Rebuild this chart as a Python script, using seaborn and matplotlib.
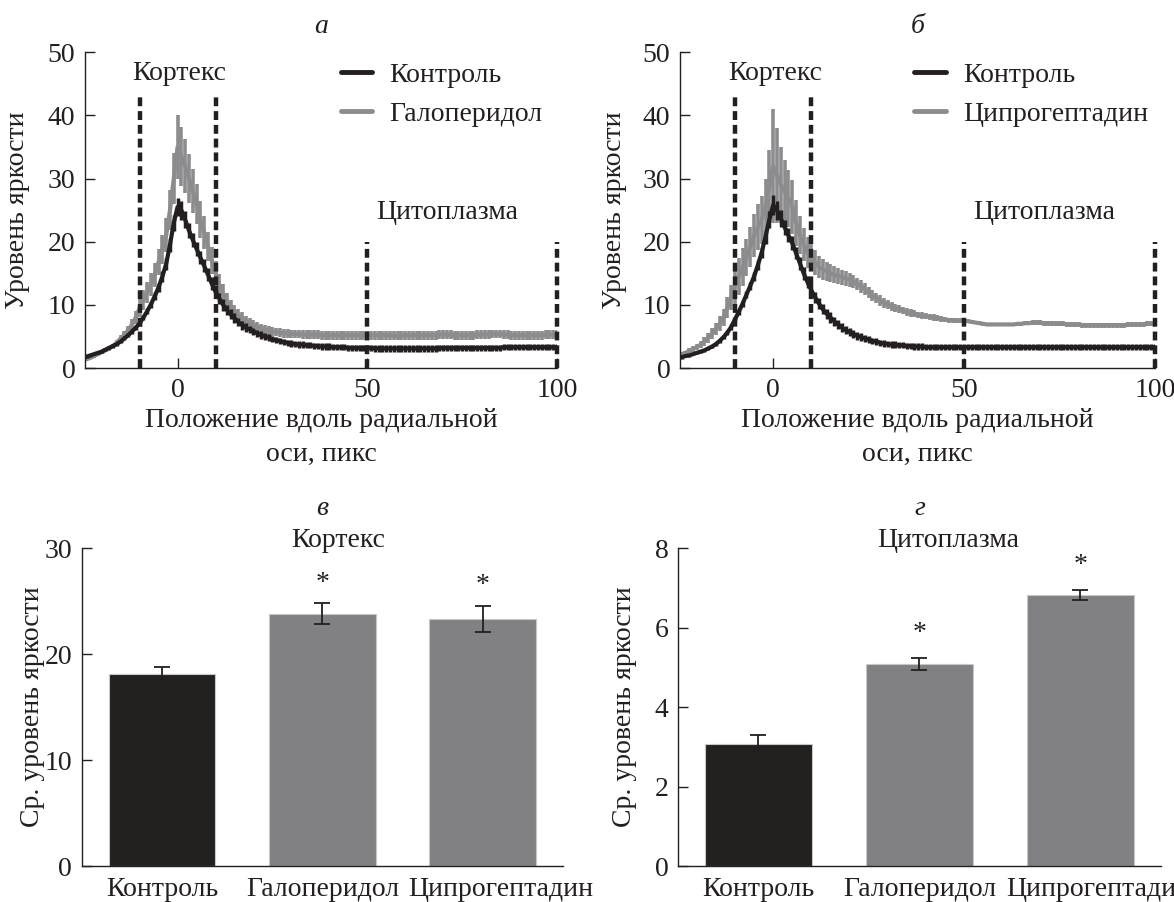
import numpy as np
import pandas as pd
import matplotlib
matplotlib.use("Agg")
import matplotlib.pyplot as plt
import matplotlib.transforms as mtransforms
from matplotlib.lines import Line2D
import seaborn as sns

# ---------------- data ----------------
positions = list(range(-25, 101))  # radial position, px

ctrl_a_mean = [1.6, 1.8, 2.0, 2.2, 2.4, 2.6, 2.9, 3.2, 3.5, 3.8,
               4.2, 4.7, 5.2, 5.8, 6.4, 7.1, 8.0, 9.0, 10.1, 11.4,
               12.8, 14.5, 16.5, 19.5, 23.0, 25.5, 25.0, 23.5, 21.8, 20.3,
               18.9, 17.5, 16.2, 14.8, 13.4, 12.1, 11.0, 10.0, 9.2, 8.5,
               7.9, 7.3, 6.8, 6.4, 6.1, 5.8, 5.5, 5.2, 5.0, 4.8,
               4.6, 4.4, 4.3, 4.1, 4.0, 3.9, 3.8, 3.7, 3.7, 3.6,
               3.6, 3.5, 3.5, 3.4, 3.4, 3.4, 3.3, 3.3, 3.3, 3.3,
               3.2, 3.2, 3.2, 3.2, 3.2, 3.2, 3.2, 3.1, 3.1, 3.1,
               3.1, 3.1, 3.1, 3.1, 3.1, 3.1, 3.1, 3.1, 3.1, 3.1,
               3.1, 3.1, 3.1, 3.1, 3.2, 3.2, 3.2, 3.2, 3.2, 3.2,
               3.2, 3.2, 3.2, 3.2, 3.2, 3.2, 3.2, 3.2, 3.2, 3.2,
               3.2, 3.3, 3.3, 3.3, 3.3, 3.3, 3.3, 3.3, 3.3, 3.3,
               3.3, 3.3, 3.3, 3.3, 3.3, 3.3]
ctrl_a_err = [0.2, 0.2, 0.2, 0.2, 0.2, 0.25, 0.25, 0.25, 0.3, 0.3,
              0.3, 0.3, 0.35, 0.35, 0.4, 0.4, 0.45, 0.5, 0.55, 0.6,
              0.7, 0.8, 0.9, 1.1, 1.3, 1.5, 1.5, 1.3, 1.2, 1.1,
              1.1, 1.0, 1.0, 1.0, 1.0, 1.0, 0.9, 0.9, 0.8, 0.8,
              0.8, 0.7, 0.7, 0.7, 0.6, 0.6, 0.6, 0.6, 0.6, 0.55,
              0.5, 0.5, 0.5, 0.5, 0.5, 0.5, 0.5, 0.5, 0.5, 0.5,
              0.5, 0.5, 0.5, 0.5, 0.5, 0.5, 0.5, 0.5, 0.5, 0.5,
              0.5, 0.5, 0.5, 0.5, 0.5, 0.5, 0.5, 0.5, 0.5, 0.5,
              0.5, 0.5, 0.5, 0.5, 0.5, 0.5, 0.5, 0.5, 0.5, 0.5,
              0.5, 0.5, 0.5, 0.5, 0.5, 0.5, 0.5, 0.5, 0.5, 0.5,
              0.5, 0.5, 0.5, 0.5, 0.5, 0.5, 0.5, 0.5, 0.5, 0.5,
              0.5, 0.5, 0.5, 0.5, 0.5, 0.5, 0.5, 0.5, 0.5, 0.5,
              0.5, 0.5, 0.5, 0.5, 0.5, 0.5]

halo_mean = [1.2, 1.4, 1.6, 1.9, 2.2, 2.5, 2.8, 3.1, 3.5, 4.0,
             4.7, 5.3, 6.0, 6.9, 8.0, 9.5, 10.8, 12.0, 13.2, 14.8,
             16.8, 18.8, 21.0, 25.0, 30.0, 35.0, 33.5, 32.0, 30.0, 28.0,
             26.0, 23.5, 21.5, 19.3, 17.0, 15.0, 13.2, 11.8, 10.6, 9.7,
             9.0, 8.4, 7.9, 7.5, 7.1, 6.8, 6.5, 6.3, 6.1, 5.9,
             5.8, 5.7, 5.6, 5.5, 5.5, 5.4, 5.4, 5.4, 5.3, 5.3,
             5.3, 5.3, 5.3, 5.2, 5.2, 5.2, 5.2, 5.2, 5.2, 5.2,
             5.2, 5.2, 5.2, 5.2, 5.2, 5.2, 5.2, 5.2, 5.2, 5.2,
             5.2, 5.2, 5.1, 5.1, 5.1, 5.2, 5.2, 5.2, 5.2, 5.2,
             5.2, 5.2, 5.2, 5.2, 5.3, 5.3, 5.3, 5.3, 5.2, 5.2,
             5.2, 5.2, 5.2, 5.2, 5.3, 5.3, 5.3, 5.3, 5.4, 5.4,
             5.4, 5.3, 5.3, 5.2, 5.2, 5.2, 5.2, 5.2, 5.2, 5.2,
             5.2, 5.2, 5.3, 5.3, 5.3, 5.3]
halo_err = [0.2, 0.2, 0.25, 0.25, 0.3, 0.3, 0.3, 0.35, 0.35, 0.4,
            0.5, 0.6, 0.7, 0.8, 1.0, 1.4, 1.6, 1.7, 1.8, 1.9,
            2.0, 2.3, 2.7, 3.2, 4.0, 5.0, 4.7, 4.3, 3.9, 3.5,
            3.2, 2.9, 2.6, 2.3, 2.1, 1.9, 1.7, 1.5, 1.3, 1.1,
            1.0, 0.9, 0.9, 0.8, 0.8, 0.8, 0.75, 0.75, 0.7, 0.7,
            0.7, 0.7, 0.7, 0.7, 0.7, 0.7, 0.7, 0.7, 0.7, 0.7,
            0.7, 0.7, 0.7, 0.7, 0.7, 0.7, 0.7, 0.7, 0.7, 0.7,
            0.7, 0.7, 0.7, 0.7, 0.7, 0.7, 0.7, 0.7, 0.7, 0.7,
            0.7, 0.7, 0.7, 0.7, 0.7, 0.7, 0.7, 0.7, 0.7, 0.7,
            0.7, 0.7, 0.7, 0.7, 0.7, 0.7, 0.7, 0.7, 0.7, 0.7,
            0.7, 0.7, 0.7, 0.7, 0.7, 0.7, 0.7, 0.7, 0.7, 0.7,
            0.7, 0.7, 0.7, 0.7, 0.7, 0.7, 0.7, 0.7, 0.7, 0.7,
            0.7, 0.7, 0.7, 0.7, 0.7, 0.7]

ctrl_b_mean = [1.6, 1.7, 1.9, 2.0, 2.2, 2.4, 2.6, 2.8, 3.1, 3.4,
               3.8, 4.3, 4.9, 5.6, 6.5, 7.7, 8.9, 10.2, 11.6, 13.0,
               14.5, 16.3, 18.3, 20.8, 23.5, 25.8, 25.0, 23.7, 22.3, 21.0,
               19.8, 18.2, 16.6, 15.0, 13.6, 12.3, 11.2, 10.2, 9.3, 8.6,
               8.0, 7.4, 6.9, 6.4, 6.0, 5.7, 5.4, 5.1, 4.9, 4.7,
               4.5, 4.3, 4.2, 4.0, 3.9, 3.8, 3.7, 3.7, 3.6, 3.6,
               3.5, 3.5, 3.4, 3.4, 3.4, 3.3, 3.3, 3.3, 3.3, 3.3,
               3.3, 3.3, 3.3, 3.3, 3.3, 3.3, 3.3, 3.3, 3.3, 3.3,
               3.3, 3.3, 3.3, 3.3, 3.3, 3.3, 3.3, 3.3, 3.3, 3.3,
               3.3, 3.3, 3.3, 3.3, 3.3, 3.3, 3.3, 3.3, 3.3, 3.3,
               3.3, 3.3, 3.3, 3.3, 3.3, 3.3, 3.3, 3.3, 3.3, 3.3,
               3.3, 3.3, 3.3, 3.3, 3.3, 3.3, 3.3, 3.3, 3.3, 3.3,
               3.3, 3.3, 3.3, 3.3, 3.3, 3.3]
ctrl_b_err = [0.2, 0.2, 0.2, 0.2, 0.2, 0.25, 0.25, 0.25, 0.3, 0.3,
              0.3, 0.3, 0.35, 0.35, 0.4, 0.4, 0.45, 0.5, 0.55, 0.6,
              0.7, 0.8, 0.9, 1.1, 1.3, 1.6, 1.5, 1.3, 1.2, 1.1,
              1.1, 1.0, 1.0, 1.0, 1.0, 1.0, 0.9, 0.9, 0.8, 0.8,
              0.8, 0.7, 0.7, 0.7, 0.6, 0.6, 0.6, 0.6, 0.6, 0.55,
              0.5, 0.5, 0.5, 0.5, 0.5, 0.5, 0.5, 0.5, 0.5, 0.5,
              0.5, 0.5, 0.5, 0.5, 0.5, 0.5, 0.5, 0.5, 0.5, 0.5,
              0.5, 0.5, 0.5, 0.5, 0.5, 0.5, 0.5, 0.5, 0.5, 0.5,
              0.5, 0.5, 0.5, 0.5, 0.5, 0.5, 0.5, 0.5, 0.5, 0.5,
              0.5, 0.5, 0.5, 0.5, 0.5, 0.5, 0.5, 0.5, 0.5, 0.5,
              0.5, 0.5, 0.5, 0.5, 0.5, 0.5, 0.5, 0.5, 0.5, 0.5,
              0.5, 0.5, 0.5, 0.5, 0.5, 0.5, 0.5, 0.5, 0.5, 0.5,
              0.5, 0.5, 0.5, 0.5, 0.5, 0.5]

cypro_mean = [2.0, 2.2, 2.4, 2.7, 3.0, 3.3, 3.7, 4.2, 4.8, 5.5,
              6.2, 7.0, 8.0, 9.6, 11.2, 13.0, 14.5, 16.0, 17.5, 19.2,
              21.0, 22.3, 23.5, 25.5, 28.5, 32.0, 30.5, 29.0, 28.0, 26.8,
              25.5, 23.0, 21.0, 19.5, 18.3, 17.5, 16.7, 16.0, 15.6, 15.3,
              15.0, 14.8, 14.6, 14.4, 14.2, 14.0, 13.7, 13.3, 12.9, 12.5,
              12.0, 11.5, 11.1, 10.7, 10.3, 10.0, 9.7, 9.5, 9.3, 9.1,
              8.9, 8.7, 8.6, 8.4, 8.3, 8.2, 8.1, 8.0, 7.9, 7.8,
              7.7, 7.6, 7.6, 7.5, 7.5, 7.5, 7.4, 7.3, 7.2, 7.1,
              7.0, 6.9, 6.9, 6.9, 6.9, 6.9, 6.9, 6.9, 6.9, 7.0,
              7.0, 7.1, 7.1, 7.2, 7.2, 7.2, 7.1, 7.1, 7.1, 7.0,
              7.0, 7.0, 6.9, 6.9, 6.9, 6.9, 6.8, 6.8, 6.8, 6.8,
              6.8, 6.8, 6.8, 6.8, 6.8, 6.8, 6.8, 6.8, 6.9, 6.9,
              6.9, 6.9, 6.9, 7.0, 7.0, 7.0]
cypro_err = [0.3, 0.3, 0.35, 0.4, 0.45, 0.5, 0.6, 0.7, 0.8, 0.9,
             1.0, 1.2, 1.4, 1.7, 2.0, 2.8, 3.0, 3.0, 3.0, 3.2,
             3.4, 3.6, 3.8, 4.5, 6.0, 9.0, 7.5, 6.0, 5.0, 4.5,
             4.2, 3.6, 3.0, 2.6, 2.4, 2.2, 2.0, 1.8, 1.6, 1.5,
             1.4, 1.3, 1.3, 1.2, 1.2, 1.1, 1.1, 1.0, 1.0, 0.9,
             0.9, 0.85, 0.8, 0.8, 0.75, 0.7, 0.7, 0.65, 0.65, 0.6,
             0.6, 0.6, 0.55, 0.55, 0.5, 0.5, 0.5, 0.5, 0.45, 0.45,
             0.45, 0.4, 0.4, 0.4, 0.35, 0.35, 0.3, 0.3, 0.3, 0.3,
             0.3, 0.3, 0.3, 0.3, 0.3, 0.3, 0.3, 0.3, 0.3, 0.3,
             0.35, 0.35, 0.35, 0.35, 0.35, 0.35, 0.4, 0.4, 0.4, 0.4,
             0.4, 0.4, 0.4, 0.4, 0.4, 0.4, 0.4, 0.4, 0.4, 0.4,
             0.4, 0.4, 0.4, 0.4, 0.4, 0.4, 0.4, 0.4, 0.4, 0.4,
             0.4, 0.4, 0.4, 0.4, 0.4, 0.45]

groups = ["Контроль", "Галоперидол", "Ципрогептадин"]
cortex_mean = [18.1, 23.8, 23.3]
cortex_err = [0.65, 1.0, 1.25]
cyto_mean = [3.08, 5.09, 6.82]
cyto_err = [0.22, 0.15, 0.13]
cortex_sig = [False, True, True]
cyto_sig = [False, True, True]

cortex_bounds = [-10, 10]
cyto_bounds = [50, 100]

# ---------------- style ----------------
sns.set_theme(style="ticks")
plt.rcParams["font.family"] = ["Liberation Serif", "DejaVu Serif"]
plt.rcParams["font.size"] = 20
plt.rcParams["axes.linewidth"] = 1.0
plt.rcParams["axes.edgecolor"] = "#231f20"
plt.rcParams["xtick.color"] = "#231f20"
plt.rcParams["ytick.color"] = "#231f20"
plt.rcParams["text.color"] = "#231f20"
plt.rcParams["axes.labelcolor"] = "#231f20"

BLACK = "#231f20"
GRAY = "#8c8c8e"
BAR_GRAY = "#808184"
FS = 20

fig = plt.figure(figsize=(11.74, 9.02), dpi=100)
ax_a = fig.add_axes([0.0724, 0.592, 0.402, 0.350])
ax_b = fig.add_axes([0.5792, 0.592, 0.4046, 0.350])
ax_c = fig.add_axes([0.0698, 0.0399, 0.4097, 0.3525])
ax_d = fig.add_axes([0.5775, 0.0399, 0.4114, 0.3525])


def style_axes(ax):
    sns.despine(ax=ax)
    ax.tick_params(axis="both", direction="in", length=7, width=1.0,
                   labelsize=FS, pad=7)


def profile_panel(ax, treat_mean, treat_err, ctrl_mean, ctrl_err, treat_name,
                  letter, leg_x, ylab_x):
    df = pd.DataFrame({"pos": positions, "treat": treat_mean, "ctrl": ctrl_mean})
    ax.errorbar(positions, treat_mean, yerr=treat_err, fmt="none", ecolor=GRAY,
                elinewidth=2.6, capsize=0, zorder=2)
    sns.lineplot(data=df, x="pos", y="treat", color=GRAY, lw=3.0, ax=ax, zorder=2.1)
    ax.errorbar(positions, ctrl_mean, yerr=ctrl_err, fmt="none", ecolor=BLACK,
                elinewidth=2.5, capsize=0, zorder=3)
    sns.lineplot(data=df, x="pos", y="ctrl", color=BLACK, lw=3.0, ax=ax, zorder=3.1)
    dash = (0, (2.0, 1.1))
    ax.vlines(cortex_bounds, 0, 43, colors=BLACK, lw=3.2, linestyles=[dash],
              zorder=5, clip_on=False)
    ax.vlines(cyto_bounds, 0, 20, colors=BLACK, lw=3.2, linestyles=[dash],
              zorder=5, clip_on=False)
    ax.text(0.5, 46.7, "Кортекс", ha="center", va="center", fontsize=FS)
    ax.text(71, 24.7, "Цитоплазма", ha="center", va="center", fontsize=FS)
    ax.set_xlim(-24.4, 100)
    ax.set_ylim(0, 50)
    ax.set_xticks([0, 50, 100])
    ax.set_yticks([0, 10, 20, 30, 40, 50])
    ax.set_xlabel("Положение вдоль радиальной\nоси, пикс", fontsize=FS, labelpad=4,
                  linespacing=1.45)
    ax.set_ylabel("Уровень яркости", fontsize=FS)
    ax.yaxis.set_label_coords(ylab_x, 0.5)
    ax.set_title(letter, fontsize=FS, style="italic", pad=14)
    handles = [Line2D([], [], color=BLACK, lw=3.5), Line2D([], [], color=GRAY, lw=3.5)]
    ax.legend(handles, ["Контроль", treat_name], loc="upper left",
              bbox_to_anchor=(leg_x, 1.013), frameon=False, fontsize=FS,
              handlelength=1.15, handletextpad=0.6, labelspacing=0.5, borderpad=0)
    style_axes(ax)


profile_panel(ax_a, halo_mean, halo_err, ctrl_a_mean, ctrl_a_err, "Галоперидол",
              "а", 0.512, -0.117)
profile_panel(ax_b, cypro_mean, cypro_err, ctrl_b_mean, ctrl_b_err, "Ципрогептадин",
              "б", 0.464, -0.112)


def bar_panel(ax, means, errs, sig, title, letter, ymax, yticks, star_off,
              title_x, ylab_x):
    df = pd.DataFrame({"group": groups, "value": means})
    sns.barplot(data=df, x="group", y="value", hue="group", legend=False,
                palette=[BLACK, BAR_GRAY, BAR_GRAY], width=0.665, ax=ax,
                edgecolor="#c8c8c8", linewidth=0.8, errorbar=None, zorder=2)
    ax.errorbar(range(len(groups)), means, yerr=errs, fmt="none", ecolor=BLACK,
                elinewidth=1.3, capsize=6, capthick=1.3, zorder=4)
    for i, (m, e, s) in enumerate(zip(means, errs, sig)):
        if s:
            ax.text(i, m + e + star_off, "*", ha="center", va="center", fontsize=FS)
    ax.set_xlim(-0.5, 2.5)
    ax.set_ylim(0, ymax)
    ax.set_yticks(yticks)
    ax.set_xlabel("")
    ax.set_ylabel("Ср. уровень яркости", fontsize=FS)
    ax.yaxis.set_label_coords(ylab_x, 0.5)
    ax.text(title_x, 1.025, title, transform=ax.transAxes, ha="center", va="center",
            fontsize=FS)
    ax.set_title(letter, fontsize=FS, style="italic", pad=24)
    style_axes(ax)
    ax.tick_params(axis="x", pad=8)
    # last category label sits a little to the right in the original layout
    lbl = ax.get_xticklabels()[-1]
    lbl.set_transform(lbl.get_transform() +
                      mtransforms.ScaledTranslation(0.18, 0, fig.dpi_scale_trans))


bar_panel(ax_c, cortex_mean, cortex_err, cortex_sig, "Кортекс", "в", 30,
          [0, 10, 20, 30], 1.9, 0.532, -0.077)
bar_panel(ax_d, cyto_mean, cyto_err, cyto_sig, "Цитоплазма", "г", 8,
          [0, 2, 4, 6, 8], 0.6, 0.56, -0.085)

fig.savefig("out.png", dpi=100)
